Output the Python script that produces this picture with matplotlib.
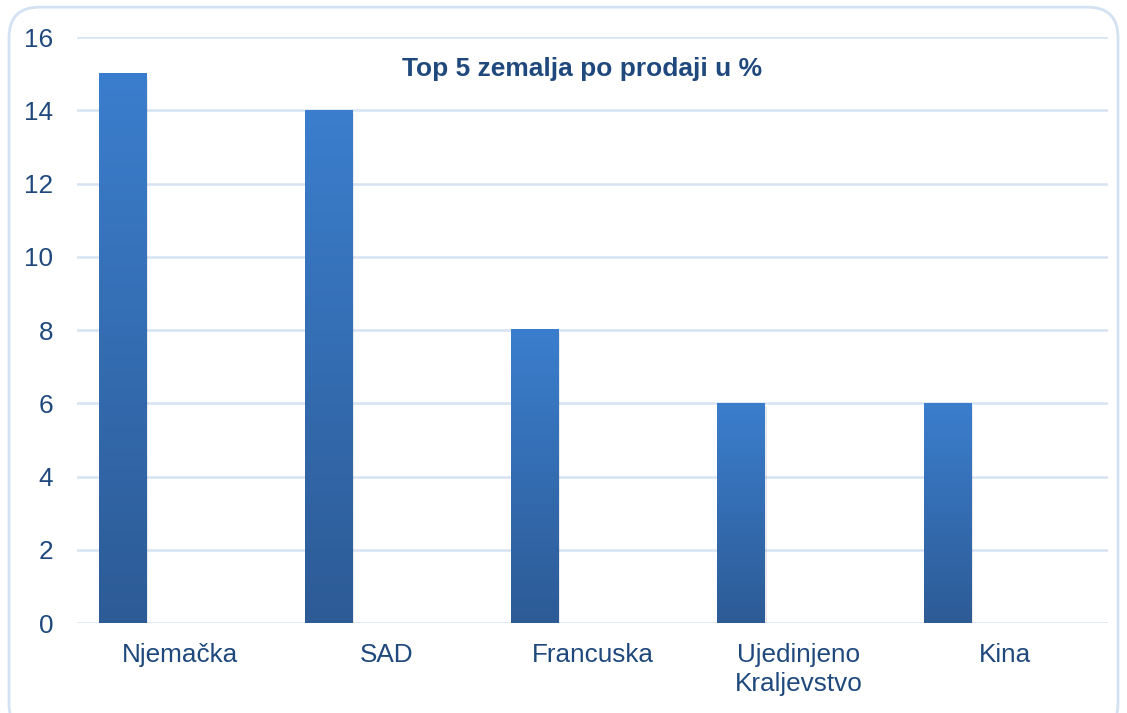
import numpy as np
import matplotlib.pyplot as plt
from matplotlib.patches import FancyBboxPatch
from matplotlib.colors import LinearSegmentedColormap

countries = ["Njemačka", "SAD", "Francuska", "Ujedinjeno\nKraljevstvo", "Kina"]
shares = [15, 14, 8, 6, 6]
yticks = [0, 2, 4, 6, 8, 10, 12, 14, 16]

plt.rcParams['font.family'] = ['Liberation Sans', 'DejaVu Sans']
label_col = '#1f497d'
grid_col = '#d6e3f3'

fig = plt.figure(figsize=(11.27, 7.13), dpi=100)
ax = fig.add_axes([0.0683, 0.126, 0.9147, 0.822])

# rounded frame around the whole chart
frame = FancyBboxPatch((0.008, -0.03), 0.984, 1.02,
                       boxstyle="round,pad=0,rounding_size=0.027",
                       transform=fig.transFigure, facecolor='none',
                       edgecolor='#d3e1f3', linewidth=2, mutation_aspect=1127 / 713)
fig.patches.append(frame)

x = np.arange(len(countries))
width = 0.228
offset = -0.28

grad = LinearSegmentedColormap.from_list('g', ['#2d5b96', '#3b7ecd'])
g = np.linspace(0, 1, 256).reshape(-1, 1)

bars = ax.bar(x + offset, shares, width, color='none', zorder=3)
for b in bars:
    x0, y0 = b.get_x(), b.get_y()
    w, h = b.get_width(), b.get_height()
    # faint shadow
    ax.bar(x0 + w / 2 + 0.006, h, w + 0.01, bottom=-0.08, color='#000000',
           alpha=0.08, zorder=2)
    ax.imshow(g, cmap=grad, origin='lower', aspect='auto',
              extent=(x0, x0 + w, y0, y0 + h), zorder=3)

ax.set_xlim(-0.5, len(countries) - 0.5)
ax.set_ylim(0, 16)
ax.set_yticks(yticks)
ax.set_xticks(x)
ax.set_xticklabels(countries, fontsize=18.8, color=label_col, linespacing=1.3)
ax.tick_params(axis='y', labelsize=18.8, labelcolor=label_col, length=0, pad=17)
ax.tick_params(axis='x', length=0, pad=14)
ax.yaxis.grid(True, color=grid_col, linewidth=1.8, zorder=0)
ax.set_axisbelow(True)
for s in ax.spines.values():
    s.set_visible(False)

ax.text(0.49, 0.945, "Top 5 zemalja po prodaji u %", transform=ax.transAxes,
        ha='center', va='center', fontsize=19, fontweight='bold', color=label_col)

fig.savefig('out.png', dpi=100)
